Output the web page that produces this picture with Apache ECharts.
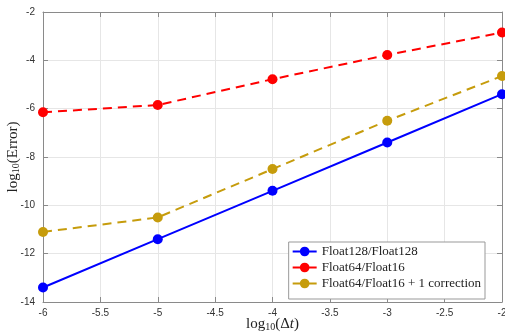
<!DOCTYPE html>
<html><head><meta charset="utf-8">
<script src="https://cdn.jsdelivr.net/npm/echarts@6/dist/echarts.min.js"></script>
<style>html,body{margin:0;padding:0;background:#fff}#c{width:505px;height:332px}</style>
</head><body><div id="c"></div>
<script>
const xVals = [-6, -5, -4, -3, -2];
const float128 = [-13.4, -11.4, -9.4, -7.4, -5.4];
const float64_16 = [-6.15, -5.85, -4.78, -3.78, -2.85];
const float64_16_corr = [-11.1, -10.5, -8.5, -6.5, -4.65];
const seriesNames = ['Float128/Float128', 'Float64/Float16', 'Float64/Float16 + 1 correction'];
const colors = ['#0000FF', '#FF0000', '#C69C0C'];

const chart = echarts.init(document.getElementById('c'));
const serif = '"Liberation Serif", "DejaVu Serif", serif';
const sans = '"Liberation Sans", Arial, sans-serif';
const axisCol = '#8a8a8a';
function mk(name, vals, color, dashed) {
  return {
    name, type: 'line', data: xVals.map((x, i) => [x, vals[i]]),
    symbol: 'circle', symbolSize: 10,
    lineStyle: { color, width: 2, type: dashed ? [9, 6] : 'solid' },
    itemStyle: { color },
    z: 5
  };
}
const richName = {
  a: { fontFamily: serif, fontSize: 15, color: '#222', lineHeight: 16 },
  b: { fontFamily: serif, fontSize: 10, color: '#222', lineHeight: 16, padding: [6, 0, 0, 0] },
  i: { fontFamily: serif, fontSize: 15, color: '#222', fontStyle: 'italic', lineHeight: 16 }
};
chart.setOption({
  animation: false,
  grid: { left: 43, right: 3, top: 12, bottom: 30, containLabel: false, outerBoundsMode: 'none' },
  xAxis: [{
    type: 'value', min: -6, max: -2, interval: 0.5,
    axisLine: { show: true, lineStyle: { color: axisCol } },
    axisTick: { inside: true, length: 5, lineStyle: { color: axisCol } },
    axisLabel: { fontFamily: sans, fontSize: 10, color: '#333', margin: 6 },
    splitLine: { show: true, lineStyle: { color: '#e6e6e6' } },
    name: '{a|log}{b|10}{a|(Δ}{i|t}{a|)}', nameLocation: 'middle', nameGap: 14,
    nameMoveOverlap: false,
    nameTextStyle: { rich: richName }
  }, {
    type: 'value', position: 'top', min: -6, max: -2, interval: 0.5,
    axisLine: { show: true, lineStyle: { color: axisCol } },
    axisTick: { inside: true, length: 5, lineStyle: { color: axisCol } },
    axisLabel: { show: false }, splitLine: { show: false }
  }],
  yAxis: [{
    type: 'value', min: -14, max: -2, interval: 2,
    axisLine: { show: true, lineStyle: { color: axisCol } },
    axisTick: { inside: true, length: 5, lineStyle: { color: axisCol } },
    axisLabel: { fontFamily: sans, fontSize: 10, color: '#333', margin: 8 },
    splitLine: { show: true, lineStyle: { color: '#e6e6e6' } },
    name: '{a|log}{b|10}{a|(Error)}', nameLocation: 'middle', nameGap: 22, nameRotate: 90,
    nameMoveOverlap: false,
    nameTextStyle: { rich: richName }
  }, {
    type: 'value', position: 'right', min: -14, max: -2, interval: 2,
    axisLine: { show: true, lineStyle: { color: axisCol } },
    axisTick: { inside: true, length: 5, lineStyle: { color: axisCol } },
    axisLabel: { show: false }, splitLine: { show: false }
  }],
  legend: {
    orient: 'vertical', right: 20, bottom: 33,
    backgroundColor: '#fff', borderColor: '#999', borderWidth: 1, borderRadius: 0,
    padding: [3, 4, 9, 3], itemGap: 3, itemWidth: 24, itemHeight: 12,
    textStyle: { fontFamily: serif, fontSize: 13, color: '#222' },
    data: seriesNames
  },
  series: [
    mk(seriesNames[0], float128, colors[0], false),
    mk(seriesNames[1], float64_16, colors[1], true),
    mk(seriesNames[2], float64_16_corr, colors[2], true)
  ]
});
</script></body></html>
